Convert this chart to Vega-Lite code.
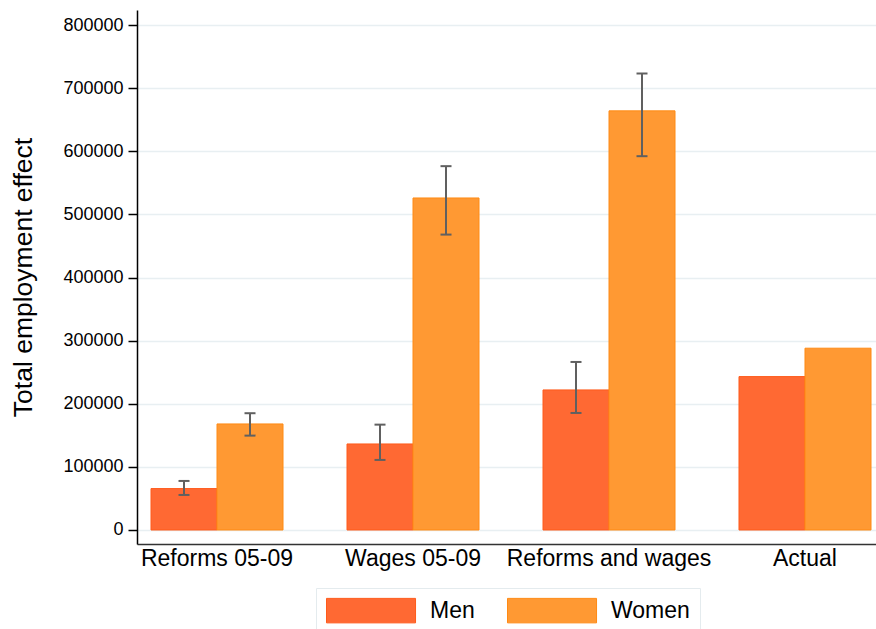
{
  "$schema": "https://vega.github.io/schema/vega-lite/v6.json",
  "autosize": {"type": "none"},
  "width": 739,
  "height": 534,
  "padding": {"left": 137, "top": 10, "right": 0, "bottom": 85},
  "background": "white",
  "config": {
    "font": "Liberation Sans",
    "view": {"stroke": null},
    "axis": {"labelColor": "#000000", "titleColor": "#000000", "labelFont": "Liberation Sans", "titleFont": "Liberation Sans"}
  },
  "data": {
    "values": [
      {"scenario": "Reforms 05-09", "sex": "Men", "effect": 65600, "lo": 55500, "hi": 77700},
      {"scenario": "Reforms 05-09", "sex": "Women", "effect": 168000, "lo": 149500, "hi": 185000},
      {"scenario": "Wages 05-09", "sex": "Men", "effect": 136300, "lo": 111000, "hi": 166900},
      {"scenario": "Wages 05-09", "sex": "Women", "effect": 526000, "lo": 468000, "hi": 576400},
      {"scenario": "Reforms and wages", "sex": "Men", "effect": 221900, "lo": 185400, "hi": 266200},
      {"scenario": "Reforms and wages", "sex": "Women", "effect": 664000, "lo": 592200, "hi": 723200},
      {"scenario": "Actual", "sex": "Men", "effect": 243000, "lo": null, "hi": null},
      {"scenario": "Actual", "sex": "Women", "effect": 288000, "lo": null, "hi": null}
    ]
  },
  "encoding": {
    "x": {
      "field": "scenario",
      "type": "nominal",
      "sort": ["Reforms 05-09", "Wages 05-09", "Reforms and wages", "Actual"],
      "scale": {"paddingInner": 0.3265, "paddingOuter": 0.0485, "align": 0.737},
      "axis": {
        "title": null,
        "labelAngle": 0,
        "labelFontSize": 23,
        "labelLimit": 0,
        "labelPadding": 3,
        "ticks": false,
        "domainColor": "#333333",
        "domainWidth": 1.5,
        "grid": false
      }
    },
    "xOffset": {
      "field": "sex",
      "type": "nominal",
      "sort": ["Men", "Women"],
      "scale": {"paddingInner": 0, "paddingOuter": 0}
    }
  },
  "layer": [
    {
      "mark": {"type": "bar", "strokeWidth": 1},
      "encoding": {
        "y": {
          "field": "effect",
          "type": "quantitative",
          "scale": {"domain": [-22200, 823800], "nice": false, "zero": false},
          "axis": {
            "title": "Total employment effect",
            "titleFontSize": 26.5,
            "titleFontWeight": "normal",
            "titlePadding": 25,
            "values": [0, 100000, 200000, 300000, 400000, 500000, 600000, 700000, 800000],
            "format": "d",
            "labelFontSize": 18,
            "labelPadding": 5,
            "tickSize": 9,
            "tickColor": "#000000",
            "tickWidth": 1.5,
            "domainColor": "#000000",
            "domainWidth": 1.5,
            "gridColor": "#e8eff2",
            "gridWidth": 1.6
          }
        },
        "fill": {
          "field": "sex",
          "type": "nominal",
          "sort": ["Men", "Women"],
          "scale": {"domain": ["Men", "Women"], "range": ["#ff6933", "#ff9933"]},
          "legend": {
            "title": null,
            "orient": "none",
            "legendX": 179,
            "legendY": 578,
            "direction": "horizontal",
            "symbolType": "M-1,-1.02H6.42V1.02H-1Z",
            "symbolSize": 576,
            "symbolStrokeWidth": 1,
            "symbolStrokeColor": "#ff7a2a",
            "symbolOpacity": 1,
            "labelFontSize": 23,
            "labelOffset": 79,
            "labelColor": "#000000",
            "columnPadding": 30,
            "padding": 10,
            "strokeColor": "#e4ebee",
            "fillColor": "#ffffff"
          }
        },
        "stroke": {
          "field": "sex",
          "type": "nominal",
          "sort": ["Men", "Women"],
          "scale": {"domain": ["Men", "Women"], "range": ["#ff5a1a", "#ff8a14"]},
          "legend": null
        }
      }
    },
    {
      "transform": [{"filter": "datum.lo != null"}],
      "mark": {"type": "rule", "color": "#606060", "strokeWidth": 2},
      "encoding": {
        "y": {"field": "lo", "type": "quantitative"},
        "y2": {"field": "hi"}
      }
    },
    {
      "transform": [{"filter": "datum.lo != null"}],
      "mark": {"type": "tick", "color": "#606060", "thickness": 2, "size": 11, "orient": "horizontal", "opacity": 1},
      "encoding": {"y": {"field": "lo", "type": "quantitative"}}
    },
    {
      "transform": [{"filter": "datum.hi != null"}],
      "mark": {"type": "tick", "color": "#606060", "thickness": 2, "size": 11, "orient": "horizontal", "opacity": 1},
      "encoding": {"y": {"field": "hi", "type": "quantitative"}}
    }
  ]
}
